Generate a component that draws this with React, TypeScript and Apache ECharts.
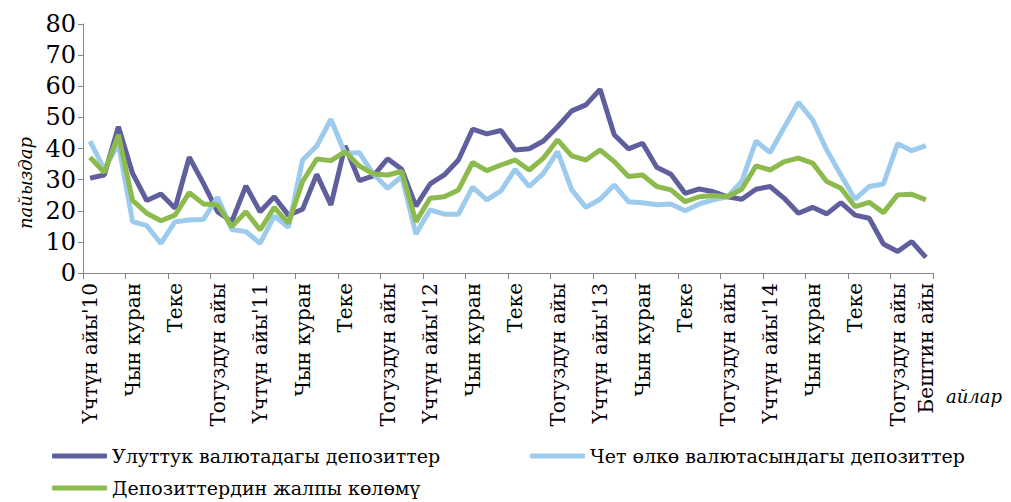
import React, { useEffect, useRef } from "react";
import * as echarts from "echarts";

const monthNames = [
  "Үчтүн айы", "Бирдин айы", "Жалган куран", "Чын куран", "Бугу", "Кулжа",
  "Теке", "Баш оона", "Аяк оона", "Тогуздун айы", "Жетинин айы", "Бештин айы",
];
const years = ["10", "11", "12", "13", "14"];

const categories: string[] = [];
years.forEach((y) => {
  monthNames.forEach((m, i) => {
    categories.push(i === 0 ? `${m}'${y}` : m);
  });
});

const seriesNames = [
  "Улуттук валютадагы депозиттер",
  "Чет өлкө валютасындагы депозиттер",
  "Депозиттердин жалпы көлөмү",
];

const nationalValues = [
  30.5, 31.5, 47, 32, 23.3, 25.4, 20.8, 37.2, 28.8, 19.7, 16.5, 28, 19.7, 24.5, 18.6,
  20.5, 31.7, 21.9, 40.8, 29.7, 31.2, 36.7, 33.3, 21.5, 28.6, 31.5, 36.3, 46.2, 44.7, 45.8,
  39.5, 39.9, 42.4, 47, 52.1, 54, 59, 44.4, 39.9, 41.7, 34, 31.7, 25.6, 27, 26.1,
  24.5, 23.7, 26.9, 27.8, 24, 19.2, 21.1, 19, 22.6, 18.6, 17.6, 9.3, 6.9, 10.1, 5,
];

const foreignValues = [
  42.4, 33.3, 41.5, 16.5, 15.2, 9.5, 16.5, 17, 17.2, 24.3, 14, 13.3, 9.5, 18.3, 14.7,
  36.3, 40.8, 49.4, 38.3, 38.7, 31.8, 27.2, 31, 12.5, 20.3, 18.9, 18.9, 27.6, 23.5, 26.4,
  33.3, 27.8, 32, 39, 26.7, 21.1, 23.7, 28.3, 22.9, 22.6, 21.9, 22.2, 20, 22.2, 23.5,
  24.5, 29.4, 42.4, 38.7, 46.8, 54.8, 49.2, 39.5, 31.5, 23.7, 27.8, 28.6, 41.5, 39.3, 40.9,
];

const totalValues = [
  37.2, 32.3, 44.4, 23.3, 19.2, 16.8, 18.6, 25.8, 22.2, 21.9, 14.9, 19.7, 13.8, 21.1, 16,
  29.4, 36.6, 36.1, 39, 34.4, 31.8, 31.5, 32.6, 16.5, 24, 24.5, 26.7, 35.5, 32.9, 34.7,
  36.3, 33.1, 36.9, 42.8, 37.6, 36.3, 39.5, 35.8, 31, 31.5, 27.8, 26.7, 22.9, 24.5, 24.9,
  24.5, 26.9, 34.4, 33.1, 35.8, 36.9, 35.3, 29.4, 27.2, 21.3, 22.7, 19.4, 25.1, 25.3, 23.5,
];

const colors = ["#5F5F9E", "#9DCBED", "#8DBA4D"];
const FONT = "DejaVu Serif";

export default function App() {
  const ref = useRef<HTMLDivElement>(null);

  useEffect(() => {
    if (!ref.current) return;
    const chart = echarts.init(ref.current, undefined, { renderer: "svg" });
    const legendText = { fontFamily: FONT, fontSize: 19, color: "#000", lineHeight: 22 };
    const legendBase = {
      icon: "roundRect",
      itemWidth: 55,
      itemHeight: 5,
      textStyle: legendText,
      padding: 0,
      itemGap: 0,
      selectedMode: false,
    };
    chart.setOption({
      animation: false,
      color: colors,
      textStyle: { fontFamily: FONT },
      grid: { left: 83, right: 78, top: 24, bottom: 229, containLabel: false },
      legend: [
        { ...legendBase, data: [seriesNames[0]], left: 52, top: 445 },
        { ...legendBase, data: [seriesNames[1]], left: 530, top: 445 },
        { ...legendBase, data: [seriesNames[2]], left: 52, top: 477 },
      ],
      xAxis: {
        type: "category",
        data: categories,
        boundaryGap: true,
        axisLine: { show: true, lineStyle: { color: "#868686", width: 1 } },
        axisTick: { show: true, interval: 2, length: 6, lineStyle: { color: "#868686" } },
        axisLabel: {
          interval: (idx: number) => idx % 3 === 0 || idx === categories.length - 1,
          rotate: 90,
          margin: 10,
          fontFamily: FONT,
          fontSize: 20,
          color: "#000",
          hideOverlap: false,
        },
        splitLine: { show: false },
      },
      yAxis: {
        type: "value",
        min: 0,
        max: 80,
        interval: 10,
        axisLine: { show: true, lineStyle: { color: "#868686", width: 1 } },
        axisTick: { show: true, length: 5, lineStyle: { color: "#868686" } },
        axisLabel: { fontFamily: FONT, fontSize: 24, color: "#000", margin: 7 },
        splitLine: { show: false },
      },
      graphic: [
        {
          type: "text",
          x: 25,
          y: 183,
          rotation: Math.PI / 2,
          style: {
            text: "пайыздар",
            fontFamily: FONT,
            fontSize: 18,
            fontStyle: "italic",
            fill: "#000",
            align: "center",
            verticalAlign: "middle",
          },
        },
        {
          type: "text",
          x: 974,
          y: 396,
          style: {
            text: "айлар",
            fontFamily: FONT,
            fontSize: 18,
            fontStyle: "italic",
            fill: "#000",
            align: "center",
            verticalAlign: "middle",
          },
        },
      ],
      series: [
        { name: seriesNames[0], type: "line", data: nationalValues, symbol: "none", lineStyle: { width: 5, color: colors[0] } },
        { name: seriesNames[1], type: "line", data: foreignValues, symbol: "none", lineStyle: { width: 5, color: colors[1] } },
        { name: seriesNames[2], type: "line", data: totalValues, symbol: "none", lineStyle: { width: 5, color: colors[2] } },
      ],
    });
    return () => chart.dispose();
  }, []);

  return (
    <div
      ref={ref}
      style={{ position: "absolute", left: 0, top: 0, width: 1011, height: 502, background: "#fff" }}
    />
  );
}
